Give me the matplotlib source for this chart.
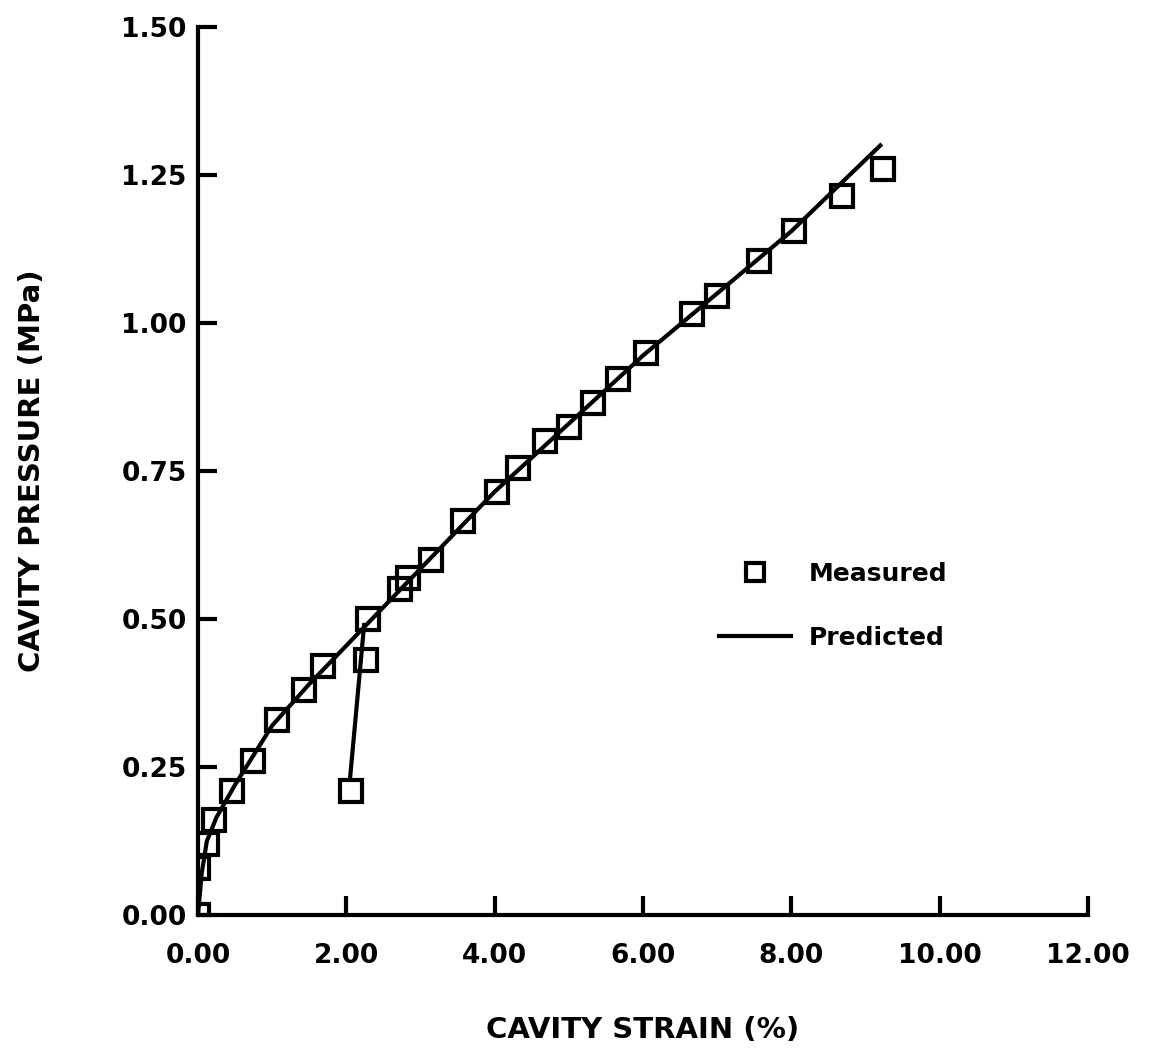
import numpy as np
import matplotlib
matplotlib.use("Agg")
import matplotlib.pyplot as plt

plt.rcParams['font.family'] = ['DejaVu Sans']
plt.rcParams['font.weight'] = 'bold'

# measured points, loading branch (strain %, pressure MPa)
meas_x = [0.00, 0.00, 0.12, 0.22, 0.46, 0.74, 1.06, 1.43, 1.68, 2.29, 2.72, 2.83,
          3.14, 3.57, 4.03, 4.31, 4.68, 5.00, 5.32, 5.66, 6.04, 6.66, 7.00, 7.57,
          8.04, 8.68, 9.23]
meas_y = [0.00, 0.08, 0.12, 0.16, 0.21, 0.26, 0.33, 0.38, 0.42, 0.50, 0.55, 0.57,
          0.60, 0.665, 0.715, 0.755, 0.80, 0.825, 0.865, 0.905, 0.95, 1.015, 1.045,
          1.105, 1.155, 1.215, 1.26]
# measured points, unloading branch
unl_x = [2.26, 2.07]
unl_y = [0.43, 0.21]

# predicted curve
pred_x = [0.00, 0.05, 0.12, 0.25, 0.50, 1.00, 1.50, 2.00, 2.50, 3.00, 4.00, 5.00,
          6.00, 7.00, 8.00, 9.20]
pred_y = [0.00, 0.07, 0.125, 0.165, 0.22, 0.32, 0.39, 0.455, 0.52, 0.585, 0.715,
          0.83, 0.945, 1.05, 1.155, 1.30]
pred_unl_x = [2.24, 2.05]
pred_unl_y = [0.49, 0.23]

xticks = [0, 2, 4, 6, 8, 10, 12]
yticks = [0, 0.25, 0.5, 0.75, 1.0, 1.25, 1.5]

fig = plt.figure(figsize=(11.53, 10.6), dpi=100)
ax = fig.add_axes([0.1717, 0.1368, 0.7719, 0.8377])

ax.plot(pred_x, pred_y, color='black', lw=3, label='Predicted', zorder=2)
ax.plot(pred_unl_x, pred_unl_y, color='black', lw=3, zorder=2)
ax.plot(meas_x, meas_y, ls='none', marker='s', ms=16, mfc='none', mec='black',
        mew=3, label='Measured', zorder=3)
ax.plot(unl_x, unl_y, ls='none', marker='s', ms=16, mfc='none', mec='black',
        mew=3, zorder=3)

ax.set_xlim(0, 12)
ax.set_ylim(0, 1.5)
ax.set_xticks(xticks)
ax.set_yticks(yticks)
ax.set_xticklabels([f"{v:.2f}" for v in xticks])
ax.set_yticklabels([f"{v:.2f}" for v in yticks])
ax.tick_params(direction='in', length=14, width=3, labelsize=19)
ax.tick_params(axis='x', pad=20)
ax.tick_params(axis='y', pad=8)
for lab in ax.get_xticklabels() + ax.get_yticklabels():
    lab.set_fontweight('bold')

ax.spines['top'].set_visible(False)
ax.spines['right'].set_visible(False)
ax.spines['left'].set_linewidth(3)
ax.spines['bottom'].set_linewidth(3)
ax.patch.set_alpha(0)
for s in ax.spines.values():
    s.set_zorder(1)

ax.set_xlabel('CAVITY STRAIN (%)', fontsize=21, fontweight='bold', labelpad=34)
ax.set_ylabel('CAVITY PRESSURE (MPa)', fontsize=21, fontweight='bold', labelpad=54)

h, l = ax.get_legend_handles_labels()
leg = ax.legend(h[::-1], l[::-1], loc='center left', bbox_to_anchor=(0.56, 0.348),
                frameon=False, handlelength=2.9, labelspacing=1.6, handletextpad=0.7,
                prop={'weight': 'bold', 'size': 18}, markerscale=0.85)

fig.savefig('out.png', dpi=100)
